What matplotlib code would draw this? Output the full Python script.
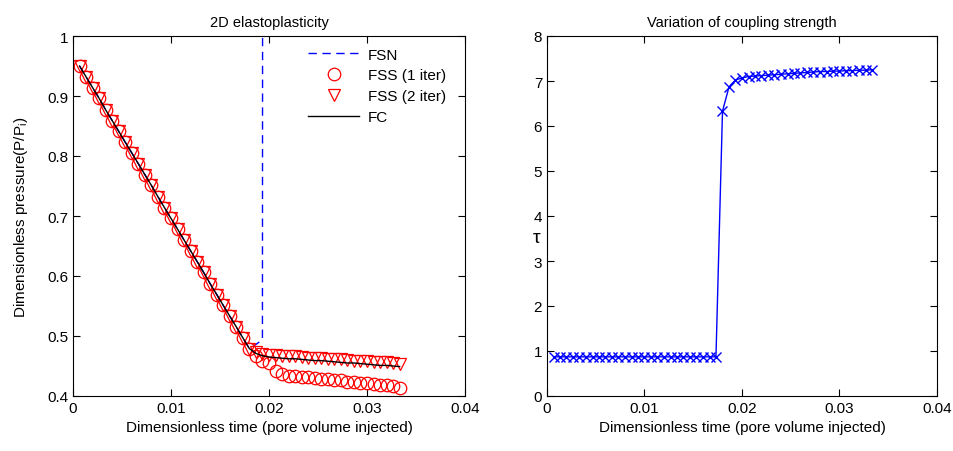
import numpy as np
import matplotlib
matplotlib.use("Agg")
import matplotlib.pyplot as plt

plt.rcParams['font.family'] = ['Liberation Sans', 'DejaVu Sans']
plt.rcParams['font.size'] = 11

# dimensionless time (pore volume injected)
t = [0.00067, 0.00133, 0.00200, 0.00267, 0.00333, 0.00400, 0.00467, 0.00533, 0.00600, 0.00667,
     0.00733, 0.00800, 0.00867, 0.00933, 0.01000, 0.01067, 0.01133, 0.01200, 0.01267, 0.01333,
     0.01400, 0.01467, 0.01533, 0.01600, 0.01667, 0.01733, 0.01800, 0.01867, 0.01933, 0.02000,
     0.02067, 0.02133, 0.02200, 0.02267, 0.02333, 0.02400, 0.02467, 0.02533, 0.02600, 0.02667,
     0.02733, 0.02800, 0.02867, 0.02933, 0.03000, 0.03067, 0.03133, 0.03200, 0.03267, 0.03333]

# common early-time decline (first 27 steps)
early = [0.950, 0.932, 0.914, 0.896, 0.877, 0.859, 0.841, 0.823, 0.805, 0.787,
         0.769, 0.751, 0.732, 0.714, 0.696, 0.678, 0.660, 0.642, 0.624, 0.606,
         0.587, 0.569, 0.551, 0.533, 0.515, 0.497, 0.479]

fc = early + [0.471, 0.467, 0.465, 0.464, 0.463, 0.462, 0.462, 0.461, 0.460, 0.459,
              0.459, 0.458, 0.457, 0.456, 0.455, 0.455, 0.454, 0.453, 0.452, 0.451,
              0.451, 0.450, 0.449]
fss2 = early + [0.473, 0.470, 0.469, 0.468, 0.467, 0.466, 0.466, 0.465, 0.464, 0.464,
                0.463, 0.462, 0.462, 0.461, 0.460, 0.459, 0.459, 0.458, 0.457, 0.456,
                0.456, 0.455, 0.454]
fss1 = early + [0.466, 0.459, 0.455, 0.441, 0.436, 0.434, 0.433, 0.432, 0.431, 0.430,
                0.429, 0.428, 0.427, 0.426, 0.424, 0.423, 0.422, 0.421, 0.420, 0.419,
                0.418, 0.416, 0.414]
# FSN diverges right after the kink
fsn = early + [0.486, 0.494, 25.0]

tau = [0.87] * 26 + [6.33, 6.87, 7.02, 7.07, 7.10, 7.11, 7.12, 7.13, 7.14, 7.15,
                     7.16, 7.17, 7.18, 7.19, 7.20, 7.21, 7.21, 7.22, 7.22, 7.23,
                     7.23, 7.24, 7.24, 7.25]

xticks = [0, 0.01, 0.02, 0.03, 0.04]
xticklabels = ['0', '0.01', '0.02', '0.03', '0.04']
yticks_l = [0.4, 0.5, 0.6, 0.7, 0.8, 0.9, 1.0]
yticklabels_l = ['0.4', '0.5', '0.6', '0.7', '0.8', '0.9', '1']
yticks_r = [0, 1, 2, 3, 4, 5, 6, 7, 8]

fig = plt.figure(figsize=(9.54, 4.52), dpi=100)
ax1 = fig.add_axes([73/954, 1-397/452, 392/954, 360/452])
ax2 = fig.add_axes([547/954, 1-397/452, 390/954, 360/452])

ax1.plot(t[:len(fsn)], fsn, '--', color='blue', lw=1, dashes=(6, 4), label='FSN')
ax1.plot(t, fss1, 'o', mfc='none', mec='red', ms=9, mew=0.9, label='FSS (1 iter)')
ax1.plot(t, fss2, 'v', mfc='none', mec='red', ms=8.5, mew=0.9, label='FSS (2 iter)')
ax1.plot(t, fc, '-', color='black', lw=1, label='FC')
ax1.set_xlim(0, 0.04)
ax1.set_ylim(0.4, 1.0)
ax1.set_xticks(xticks)
ax1.set_xticklabels(xticklabels)
ax1.set_yticks(yticks_l)
ax1.set_yticklabels(yticklabels_l)
ax1.set_title('2D elastoplasticity', fontsize=10.5, pad=7)
ax1.set_xlabel('Dimensionless time (pore volume injected)')
ax1.set_ylabel('Dimensionless pressure(P/P$_\\mathregular{i}$)', labelpad=12)
leg = ax1.legend(loc='upper left', bbox_to_anchor=(0.585, 0.985), frameon=False,
                 handlelength=3.3, handletextpad=0.6, labelspacing=0.45, borderaxespad=0)

ax2.plot(t, tau, '-x', color='blue', lw=1, ms=7, mew=1)
ax2.set_xlim(0, 0.04)
ax2.set_ylim(0, 8)
ax2.set_xticks(xticks)
ax2.set_xticklabels(xticklabels)
ax2.set_yticks(yticks_r)
ax2.set_title('Variation of coupling strength', fontsize=10.5, pad=7)
ax2.set_xlabel('Dimensionless time (pore volume injected)')
ax2.set_ylabel('τ', fontsize=14, rotation=0, ha='center', va='center')
ax2.yaxis.set_label_coords(-0.026, 0.44)

for ax in (ax1, ax2):
    ax.tick_params(direction='in', top=True, right=True, length=5, width=0.8, labelsize=11)
    for s in ax.spines.values():
        s.set_linewidth(0.8)

plt.savefig('out.png', dpi=100)
